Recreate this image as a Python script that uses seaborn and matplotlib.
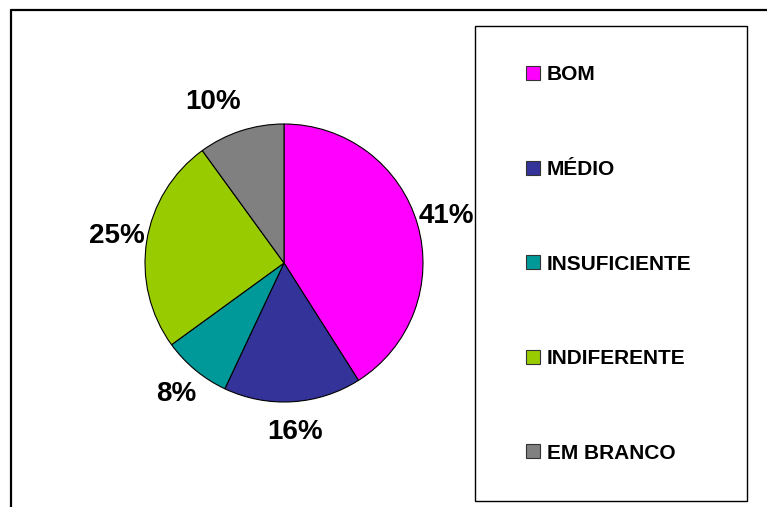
import matplotlib
matplotlib.use("Agg")
import matplotlib.pyplot as plt
from matplotlib.patches import Rectangle, Patch
from matplotlib.lines import Line2D
import seaborn as sns

# data
categories = ["BOM", "MÉDIO", "INSUFICIENTE", "INDIFERENTE", "EM BRANCO"]
values = [41, 16, 8, 25, 10]
colors = ["#FF00FF", "#333399", "#009999", "#99CC00", "#808080"]

sns.set_theme(style="white")
plt.rcParams["font.family"] = ["Liberation Sans", "DejaVu Sans"]
palette = sns.color_palette(colors)

W, H = 767, 507
fig = plt.figure(figsize=(W / 100, H / 100), dpi=100)
fig.patch.set_facecolor("white")

# pie axes: square box centred on the pie
cx, cy, r = 284, 263, 139
half = r * 1.5
ax = fig.add_axes([(cx - half) / W, (H - cy - half) / H, 2 * half / W, 2 * half / H])

wedges, texts, autotexts = ax.pie(
    values, colors=palette, startangle=90, counterclock=False,
    autopct=lambda p: f"{p:.0f}%", pctdistance=1.22,
    wedgeprops=dict(edgecolor="black", linewidth=0.8),
    textprops=dict(fontsize=20, fontweight="bold", color="black"),
)
# the top label sits a bit further left in the original
x, y = autotexts[-1].get_position()
autotexts[-1].set_position((x - 0.13, y))

ax.set_xlim(-1.5, 1.5)
ax.set_ylim(-1.5, 1.5)
ax.set_aspect("equal")
ax.axis("off")

# outer chart border (top and left visible, rest cut off)
fig.add_artist(Line2D([11 / W, 11 / W], [0, 1 - 10 / H], transform=fig.transFigure,
                      color="black", linewidth=1.6))
fig.add_artist(Line2D([11 / W, 1], [1 - 10 / H, 1 - 10 / H], transform=fig.transFigure,
                      color="black", linewidth=1.6))

# legend frame
lx0, lx1, ly0, ly1 = 475, 747, 26, 501
fig.add_artist(Rectangle((lx0 / W, 1 - ly1 / H), (lx1 - lx0) / W, (ly1 - ly0) / H,
                         transform=fig.transFigure, facecolor="white",
                         edgecolor="black", linewidth=1.0, zorder=0))

handles = [Patch(facecolor=c, edgecolor="#333333", linewidth=0.8) for c in palette]
leg = fig.legend(handles, categories, loc="center left",
                 bbox_to_anchor=(526 / W, 1 - 264 / H), frameon=False,
                 prop=dict(size=15, weight="bold"), labelspacing=3.63,
                 handlelength=0.68, handleheight=0.65, handletextpad=0.33,
                 borderpad=0, borderaxespad=0)
for t in leg.get_texts():
    t.set_color("black")

fig.savefig("out.png", dpi=100, facecolor="white")
